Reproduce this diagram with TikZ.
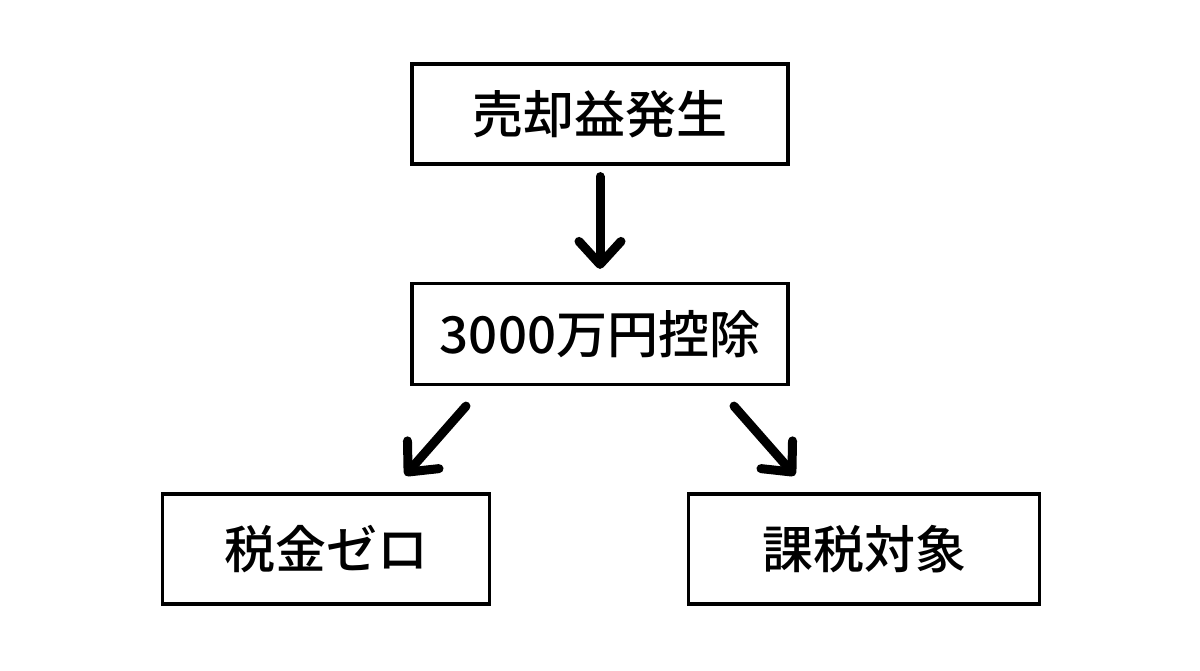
\documentclass[tikz,border=0pt]{standalone}
\usepackage{fontspec}
\setmainfont{Noto Sans CJK JP}[BoldFont={Noto Sans CJK JP Medium}]
\usetikzlibrary{arrows.meta,calc}
\begin{document}
\begin{tikzpicture}[x=1pt,y=-1pt,
  box/.style={draw=black,line width=3.2pt,fill=white,inner sep=0pt,
    font=\fontsize{51}{60}\selectfont\bfseries},
  conn/.style={line width=9pt,line cap=round,
    -{Straight Barb[length=23pt,width=42pt,round]}}]
\useasboundingbox (0,0) rectangle (1200,670);
\fill[white] (0,0) rectangle (1200,670);
\node[box,minimum width=376pt,minimum height=100pt] (top) at (600,114) {売却益発生};
\node[box,minimum width=376pt,minimum height=101pt] (mid) at (600,334) {3000万円控除};
\node[box,minimum width=327pt,minimum height=110pt] (bl) at (326,549) {税金ゼロ\hspace{10pt}};
\node[box,minimum width=351pt,minimum height=110pt] (br) at (864,549) {課税対象};
\coordinate (la) at ($(mid.south)+(-134,20)$);
\coordinate (lb) at ($(bl.north east)+(-86,-17)$);
\coordinate (ra) at ($(mid.south)+(134,20)$);
\coordinate (rb) at ($(br.north west)+(108,-17)$);
\draw[conn,shorten <=11pt,shorten >=13pt] (top.south) -- (mid.north);
\draw[conn] (la) -- (lb);
\draw[conn] (ra) -- (rb);
\end{tikzpicture}
\end{document}
